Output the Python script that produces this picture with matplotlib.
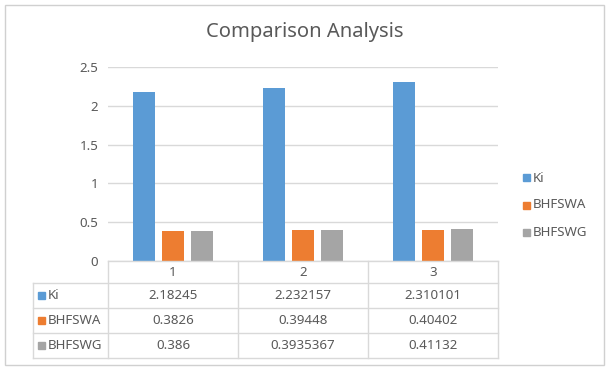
import matplotlib
matplotlib.use("Agg")
import matplotlib.pyplot as plt
from matplotlib.patches import Rectangle
from matplotlib.lines import Line2D

plt.rcParams['font.family'] = ['Noto Sans', 'DejaVu Sans']

categories = ["1", "2", "3"]
series_names = ["Ki", "BHFSWA", "BHFSWG"]
ki = [2.18245, 2.232157, 2.310101]
bhfswa = [0.3826, 0.39448, 0.40402]
bhfswg = [0.386, 0.3935367, 0.41132]
series_values = [ki, bhfswa, bhfswg]
value_labels = [["2.18245", "2.232157", "2.310101"],
                ["0.3826", "0.39448", "0.40402"],
                ["0.386", "0.3935367", "0.41132"]]
colors = ["#5B9BD5", "#ED7D31", "#A5A5A5"]
title = "Comparison Analysis"

W, H = 608, 368
fig = plt.figure(figsize=(W / 100, H / 100), dpi=100)

def fx(x):
    return x / W

def fy(y):
    return 1 - y / H

txt = "#595959"
grid = "#D9D9D9"
fs = 9.6

# outer border
fig.patches.append(Rectangle((fx(4.5), fy(364.5)), fx(599), 360 / H, transform=fig.transFigure,
                             fill=False, edgecolor="#D0D0D0", linewidth=1.0))

# plot area
x0, x1, ytop, ybot = 108, 498, 67, 261
ax = fig.add_axes([fx(x0), fy(ybot), fx(x1 - x0), (ybot - ytop) / H])
ax.set_xlim(-0.5, 2.5)
ax.set_ylim(0, 2.5)
width = 0.17
offsets = [-0.22, 0.0, 0.22]
for vals, c, off in zip(series_values, colors, offsets):
    ax.bar([i + off for i in range(len(categories))], vals, width=width, color=c, zorder=3)
ax.set_yticks([0, 0.5, 1, 1.5, 2, 2.5])
ax.set_yticklabels(["0", "0.5", "1", "1.5", "2", "2.5"])
ax.yaxis.grid(True, color=grid, linewidth=1.0, zorder=0)
ax.tick_params(axis='y', length=0, labelsize=fs, labelcolor=txt, pad=7)
ax.set_xticks([])
for s in ax.spines.values():
    s.set_visible(False)
ax.patch.set_alpha(0)

# title
fig.text(fx(305), fy(32), title, ha="center", va="center", fontsize=14.5, color=txt)

# data table
cols = [108, 238, 368, 498]
rows = [261, 283, 308, 333, 358]
left = 33
lines = []
lines.append(((x0, x1), (261, 261)))
for y in rows[1:]:
    lines.append(((left, x1), (y, y)))
for x in cols:
    lines.append(((x, x), (261, 358)))
lines.append(((left, left), (283, 358)))
for xs, ys in lines:
    fig.lines.append(Line2D([fx(xs[0]), fx(xs[1])], [fy(ys[0]), fy(ys[1])],
                            transform=fig.transFigure, color=grid, linewidth=1.0))

for j, cat in enumerate(categories):
    cx = (cols[j] + cols[j + 1]) / 2
    fig.text(fx(cx), fy(272), cat, ha="center", va="center", fontsize=fs, color=txt)

for i, name in enumerate(series_names):
    cy = (rows[i + 1] + rows[i + 2]) / 2
    fig.patches.append(Rectangle((fx(38), fy(cy + 3.5)), 7 / W, 7 / H, transform=fig.transFigure,
                                 color=colors[i]))
    fig.text(fx(48), fy(cy), name, ha="left", va="center", fontsize=fs, color=txt)
    for j in range(len(categories)):
        cx = (cols[j] + cols[j + 1]) / 2
        fig.text(fx(cx), fy(cy), value_labels[i][j], ha="center", va="center", fontsize=fs, color=txt)

# legend
leg_y = [178, 205, 232]
for i, name in enumerate(series_names):
    fig.patches.append(Rectangle((fx(523), fy(leg_y[i] + 3.5)), 7 / W, 7 / H, transform=fig.transFigure,
                                 color=colors[i]))
    fig.text(fx(533), fy(leg_y[i]), name, ha="left", va="center", fontsize=fs, color=txt)

fig.savefig("out.png", dpi=100, facecolor="white")
